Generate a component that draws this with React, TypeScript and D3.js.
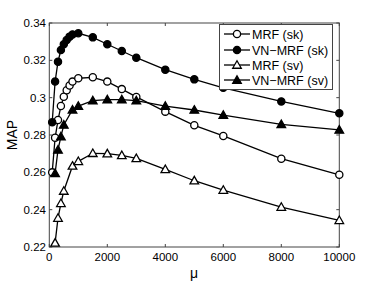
import React from "react";
import * as d3 from "d3";

// mu values used by each run
const muSk = [100, 200, 300, 400, 500, 600, 700, 800, 1000, 1500, 2000, 2500, 3000, 4000, 5000, 6000, 8000, 10000];
const muSv = [200, 300, 400, 500, 800, 1000, 1500, 2000, 2500, 3000, 4000, 5000, 6000, 8000, 10000];

const mrfSk = [0.260, 0.2785, 0.288, 0.2955, 0.3005, 0.304, 0.3065, 0.3086, 0.3104, 0.3109, 0.3086, 0.3046, 0.3004, 0.2925, 0.2852, 0.2795, 0.2673, 0.2587];
const vnMrfSk = [0.2868, 0.3086, 0.3193, 0.3255, 0.3286, 0.3309, 0.3327, 0.3339, 0.3345, 0.3323, 0.3286, 0.325, 0.3214, 0.315, 0.3098, 0.3053, 0.298, 0.2916];
const mrfSv = [0.2222, 0.2355, 0.2434, 0.250, 0.2634, 0.2659, 0.2702, 0.270, 0.2691, 0.2675, 0.2616, 0.2555, 0.2505, 0.2414, 0.2343];
const vnMrfSv = [0.2595, 0.272, 0.2791, 0.2854, 0.2935, 0.2955, 0.2984, 0.299, 0.299, 0.2984, 0.2955, 0.2934, 0.2907, 0.2857, 0.2827];

const xTicks = [0, 2000, 4000, 6000, 8000, 10000];
const yTicks = [0.22, 0.24, 0.26, 0.28, 0.3, 0.32, 0.34];

const series = [
  { name: "MRF (sk)", x: muSk, y: mrfSk, shape: "circle", fill: "#fff" },
  { name: "VN\u2212MRF (sk)", x: muSk, y: vnMrfSk, shape: "circle", fill: "#000" },
  { name: "MRF (sv)", x: muSv, y: mrfSv, shape: "triangle", fill: "#fff" },
  { name: "VN\u2212MRF (sv)", x: muSv, y: vnMrfSv, shape: "triangle", fill: "#000" },
];

const Marker = ({ shape, fill, cx, cy }: any) => {
  if (shape === "circle") {
    return <circle cx={cx} cy={cy} r={3.6} fill={fill} stroke="#000" strokeWidth={1.3} />;
  }
  const s = 4.3;
  const d = `M${cx},${cy - s}L${cx + s},${cy + s * 0.75}L${cx - s},${cy + s * 0.75}Z`;
  return <path d={d} fill={fill} stroke="#000" strokeWidth={1.3} strokeLinejoin="miter" />;
};

const App = () => {
  const width = 374;
  const height = 281;
  const left = 49.3;
  const right = 339.3;
  const top = 23;
  const bottom = 247;
  const font = "'Liberation Sans', Arial, sans-serif";

  const xScale = d3.scaleLinear().domain([0, 10000]).range([left, right]);
  const yScale = d3.scaleLinear().domain([0.22, 0.34]).range([bottom, top]);
  const line = d3.line<number>();

  const lx = 219.5;
  const ly = 24.5;
  const legendRows = [34, 50, 65, 80];

  return (
    <svg width={width} height={height} style={{ position: "absolute", left: 0, top: 0 }} fontFamily={font}>
      <rect x={0} y={0} width={width} height={height} fill="#fff" />
      {/* axes box */}
      <rect x={left} y={top} width={right - left} height={bottom - top} fill="none" stroke="#444" strokeWidth={1} />
      {xTicks.map((t) => (
        <g key={"x" + t}>
          <line x1={xScale(t)} x2={xScale(t)} y1={bottom} y2={bottom - 3} stroke="#444" />
          <line x1={xScale(t)} x2={xScale(t)} y1={top} y2={top + 3} stroke="#444" />
          <text x={xScale(t)} y={261} fontSize={11.5} textAnchor="middle" fill="#000">
            {t}
          </text>
        </g>
      ))}
      {yTicks.map((t) => (
        <g key={"y" + t}>
          <line x1={left} x2={left + 3} y1={yScale(t)} y2={yScale(t)} stroke="#444" />
          <line x1={right} x2={right - 3} y1={yScale(t)} y2={yScale(t)} stroke="#444" />
          <text x={46} y={yScale(t) + 4} fontSize={11.5} textAnchor="end" fill="#000">
            {d3.format("")(t)}
          </text>
        </g>
      ))}
      <text x={194} y={278} fontSize={14} textAnchor="middle">
        μ
      </text>
      <text transform="translate(17,135) rotate(-90)" fontSize={14} textAnchor="middle">
        MAP
      </text>
      {series.map((s) => {
        const pts = s.x.map((v, i) => [xScale(v), yScale(s.y[i])] as [number, number]);
        return (
          <g key={s.name}>
            <path d={line(pts) || ""} fill="none" stroke="#000" strokeWidth={1.3} />
            {pts.map(([cx, cy], i) => (
              <Marker key={i} shape={s.shape} fill={s.fill} cx={cx} cy={cy} />
            ))}
          </g>
        );
      })}
      {/* legend */}
      <rect x={lx} y={ly} width={113} height={65} fill="#fff" stroke="#444" strokeWidth={1} />
      {series.map((s, i) => (
        <g key={"leg" + i}>
          <line x1={224} x2={250} y1={legendRows[i]} y2={legendRows[i]} stroke="#000" strokeWidth={1.3} />
          <Marker shape={s.shape} fill={s.fill} cx={237} cy={legendRows[i]} />
          <text x={252} y={legendRows[i] + 4.5} fontSize={12.5}>
            {s.name}
          </text>
        </g>
      ))}
    </svg>
  );
};

export default App;
